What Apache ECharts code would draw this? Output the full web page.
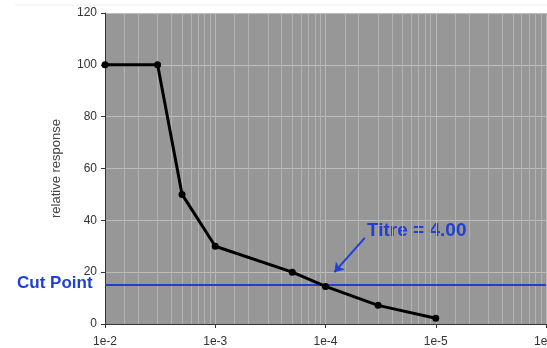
<!DOCTYPE html>
<html><head><meta charset="utf-8">
<script src="https://cdn.jsdelivr.net/npm/echarts@6/dist/echarts.min.js"></script>
<style>html,body{margin:0;padding:0;background:#fff}#c{width:547px;height:348px}</style>
</head><body><div id="c"></div>
<script>
var dilution = [1e-2, 1/300, 1/500, 1e-3, 1/5000, 1e-4, 1/30000, 1e-5];
var response = [100, 100, 50, 30, 20, 14.5, 7.2, 2.2];
var cutPoint = 15;
var xTicks = [1e-2, 1e-3, 1e-4, 1e-5, 1e-6];
var yTicks = [0, 20, 40, 60, 80, 100, 120];
var titreText = 'Titre = 4.00';
var arrowFrom = [4.4e-5, 33.2];
var arrowTo = [8.3e-5, 20];
var minorFactors = [1.5, 2, 3, 4, 5, 6, 7, 8, 9];

var minorX = [];
[1e-2, 1e-3, 1e-4, 1e-5].forEach(function (d) {
  minorFactors.forEach(function (k) { minorX.push(d / k); });
});

var chart = echarts.init(document.getElementById('c'));
var blue = '#1f3fd6';
chart.setOption({
  animation: false,
  grid: { left: 105, right: 1, top: 13, bottom: 24, show: true, backgroundColor: '#979797', borderWidth: 0,
    containLabel: false, outerBoundsMode: 'none' },
  xAxis: {
    type: 'log', logBase: 10, min: 1e-6, max: 1e-2, inverse: true,
    axisLine: { show: true, lineStyle: { color: '#333', width: 1 } },
    axisTick: { show: true, length: 4, lineStyle: { color: '#333' } },
    axisLabel: { color: '#333', fontSize: 12, fontFamily: 'Liberation Sans', margin: 12,
      formatter: function (v) { return '1e' + Math.round(Math.log10(v)); } },
    splitLine: { show: true, lineStyle: { color: '#b8b8b8', width: 1 } }
  },
  yAxis: {
    type: 'value', min: 0, max: 120, interval: 20,
    name: 'relative response', nameLocation: 'middle', nameGap: 42,
    nameTextStyle: { color: '#444', fontSize: 13, fontFamily: 'Liberation Sans' },
    axisLine: { show: true, lineStyle: { color: '#333' } },
    axisTick: { show: true, length: 4, lineStyle: { color: '#333' } },
    axisLabel: { color: '#333', fontSize: 12, fontFamily: 'Liberation Sans', margin: 8 },
    splitLine: { show: true, lineStyle: { color: '#bdbdbd', width: 1 } }
  },
  series: [
    {
      type: 'line', data: [], silent: true, z: 1,
      markLine: {
        silent: true, symbol: ['none', 'none'], label: { show: false },
        lineStyle: { color: '#b3b3b3', width: 1, type: 'solid' },
        data: minorX.map(function (x) { return [{ coord: [x, 0] }, { coord: [x, 120] }]; })
      }
    },
    {
      type: 'line', z: 5,
      data: dilution.map(function (d, i) { return [d, response[i]]; }),
      lineStyle: { color: '#000', width: 3 },
      itemStyle: { color: '#000' },
      symbol: 'circle', symbolSize: 7,
      markLine: {
        silent: true, symbol: ['none', 'none'], label: { show: false },
        lineStyle: { color: blue, width: 2, type: 'solid' },
        data: [{ yAxis: cutPoint }]
      }
    },
    {
      type: 'line', data: [], silent: true,
      markLine: {
        silent: true, symbol: ['none', 'arrow'], symbolSize: 9, label: { show: false },
        lineStyle: { color: blue, width: 2, type: 'solid' },
        data: [[{ coord: arrowFrom }, { coord: arrowTo }]]
      }
    }
  ],
  graphic: [
    { type: 'line', shape: { x1: 15, y1: 5, x2: 547, y2: 5 }, style: { stroke: '#eeeeee', lineWidth: 1 } },
    { type: 'text', left: 367, top: 221, style: { text: titreText, fill: blue, font: 'bold 19px Liberation Sans' } },
    { type: 'text', left: 17, top: 275, style: { text: 'Cut Point', fill: blue, font: 'bold 17px Liberation Sans' } }
  ]
});
</script></body></html>
